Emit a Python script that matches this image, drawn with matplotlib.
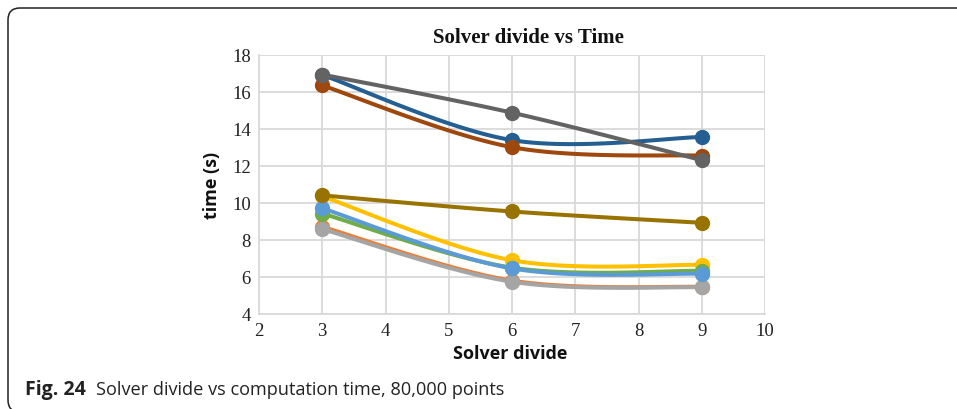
import numpy as np
import matplotlib
matplotlib.use("Agg")
import matplotlib.pyplot as plt
from matplotlib.patches import FancyBboxPatch
from matplotlib.transforms import IdentityTransform

# ---- data ----
solver_divide = [3, 6, 9]
s_gray_light = [8.58, 5.74, 5.44]
s_orange = [8.70, 5.80, 5.46]
s_yellow = [10.35, 6.90, 6.65]
s_green = [9.42, 6.50, 6.33]
s_lightblue = [9.70, 6.46, 6.17]
s_darkblue = [16.90, 13.38, 13.55]
s_brown = [16.33, 13.00, 12.54]
s_darkgray = [16.92, 14.86, 12.30]
s_gold = [10.40, 9.53, 8.92]

series = [s_orange, s_gray_light, s_yellow, s_green, s_lightblue,
          s_darkblue, s_brown, s_darkgray, s_gold]
colors = ["#ED7D31", "#A5A5A5", "#FFC000", "#70AD47", "#5B9BD5",
          "#255E91", "#9E480E", "#636363", "#997300"]

x_ticks = [2, 3, 4, 5, 6, 7, 8, 9, 10]
y_ticks = [4, 6, 8, 10, 12, 14, 16, 18]

title = "Solver divide vs Time"
x_label = "Solver divide"
y_label = "time (s)"
caption_bold = "Fig. 24"
caption_text = "Solver divide vs computation time, 80,000 points"


def smooth(xs, ys, n=40):
    """Excel-like smoothed line (Catmull-Rom Bezier)."""
    xs = np.asarray(xs, float)
    ys = np.asarray(ys, float)
    px = np.concatenate([[xs[0]], xs, [xs[-1]]])
    py = np.concatenate([[ys[0]], ys, [ys[-1]]])
    ox, oy = [], []
    t = np.linspace(0, 1, n)
    for i in range(1, len(px) - 2):
        p0 = np.array([px[i], py[i]])
        p3 = np.array([px[i + 1], py[i + 1]])
        c1 = p0 + (np.array([px[i + 1], py[i + 1]]) - np.array([px[i - 1], py[i - 1]])) / 6
        c2 = p3 - (np.array([px[i + 2], py[i + 2]]) - np.array([px[i], py[i]])) / 6
        b = ((1 - t) ** 3)[:, None] * p0 + (3 * (1 - t) ** 2 * t)[:, None] * c1 \
            + (3 * (1 - t) * t ** 2)[:, None] * c2 + (t ** 3)[:, None] * p3
        ox.extend(b[:, 0])
        oy.extend(b[:, 1])
    return np.array(ox), np.array(oy)


W, H = 957, 410
fig = plt.figure(figsize=(W / 100, H / 100), dpi=100)

# rounded frame (pixel coordinates, origin bottom-left); right and bottom run off-canvas
frame = FancyBboxPatch((8, -3), 1200, (H - 9) + 3,
                       boxstyle="round,pad=0,rounding_size=12",
                       transform=IdentityTransform(), fill=False,
                       edgecolor="#222222", linewidth=1.1, clip_on=False)
fig.patches.append(frame)

ax = fig.add_axes([259 / W, 1 - 315 / H, (765 - 259) / W, (315 - 55.5) / H])

for ys, c in zip(series, colors):
    sx, sy = smooth(solver_divide, ys)
    ax.plot(sx, sy, color=c, linewidth=2.9, solid_capstyle="round", zorder=3)
    ax.plot(solver_divide, ys, linestyle="none", marker="o", markersize=10,
            color=c, zorder=4)

ax.set_xlim(x_ticks[0], x_ticks[-1])
ax.set_ylim(y_ticks[0], y_ticks[-1])
ax.set_xticks(x_ticks)
ax.set_yticks(y_ticks)
ax.grid(True, color="#D9D9D9", linewidth=1.3)
ax.set_axisbelow(True)
for s in ["top", "right"]:
    ax.spines[s].set_visible(False)
for s in ["left", "bottom"]:
    ax.spines[s].set_color("#D9D9D9")
    ax.spines[s].set_linewidth(1.3)
ax.tick_params(length=0, pad=6)
for lab in ax.get_xticklabels() + ax.get_yticklabels():
    lab.set_fontfamily("Liberation Serif")
    lab.set_fontsize(13.5)
    lab.set_color("#222222")

fig.text(528 / W, 1 - 38 / H, title, ha="center", va="center",
         fontfamily="Liberation Serif", fontweight="bold", fontsize=15, color="#111111")
fig.text(510 / W, 1 - 354 / H, x_label, ha="center", va="center",
         fontfamily="Open Sans", fontweight="bold", fontsize=13, color="#111111")
fig.text(212 / W, 1 - 185 / H, y_label, ha="center", va="center", rotation=90,
         fontfamily="Open Sans", fontweight="bold", fontsize=13, color="#111111")

fig.text(25 / W, 1 - 390 / H, caption_bold, ha="left", va="center",
         fontfamily="Open Sans", fontweight="bold", fontsize=14, color="#222222")
fig.text(96 / W, 1 - 390 / H, caption_text,
         ha="left", va="center", fontfamily="Open Sans", fontsize=13.1, color="#222222")

fig.savefig("out.png", dpi=100)
